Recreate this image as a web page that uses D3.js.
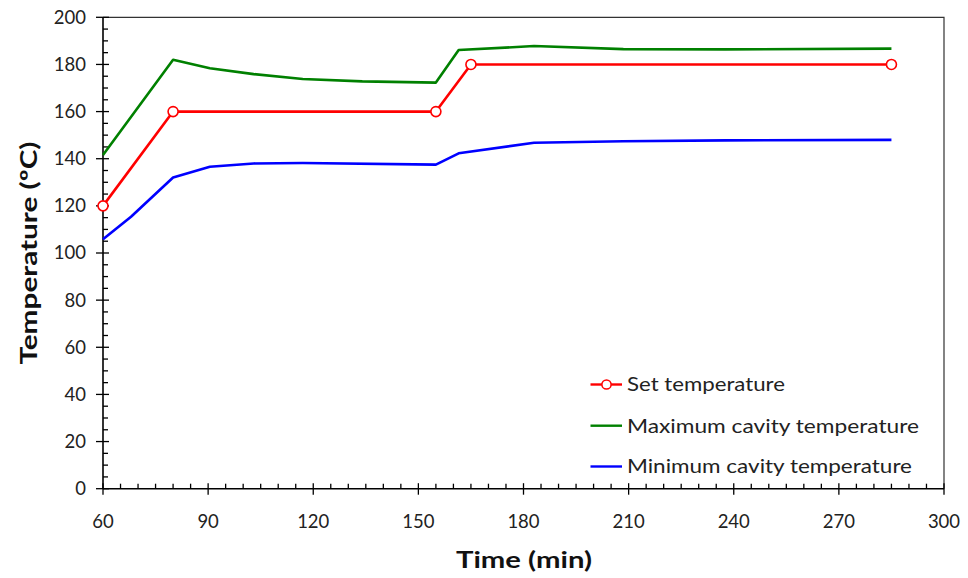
<!DOCTYPE html>
<html><head><meta charset="utf-8">
<script src="https://cdn.jsdelivr.net/npm/d3@7"></script>
<style>body{margin:0;background:#fff;} svg{display:block;}</style>
</head><body>
<svg id="c" width="968" height="578"></svg>
<script>
const setTime = [60, 80, 155, 165, 285];
const setTemp = [120, 160, 160, 180, 180];
const maxTime = [60, 80, 90.5, 103, 117, 134, 155, 161.5, 183, 208.5, 237.5, 285];
const maxTemp = [141.6, 182, 178.4, 175.9, 173.8, 172.8, 172.3, 186.1, 187.8, 186.5, 186.4, 186.7];
const minTime = [60, 68, 80, 90.5, 103, 117, 155, 161.5, 183, 208.5, 237.5, 285];
const minTemp = [105.8, 115.4, 132, 136.6, 138, 138.2, 137.5, 142.3, 146.8, 147.4, 147.8, 148];
const xTicks = [60, 90, 120, 150, 180, 210, 240, 270, 300];
const yTicks = [0, 20, 40, 60, 80, 100, 120, 140, 160, 180, 200];
const seriesNames = ["Set temperature", "Maximum cavity temperature", "Minimum cavity temperature"];
const seriesColors = ["#ff0000", "#008000", "#0000ff"];

const svg = d3.select("#c");
const L = 103, R = 944, T = 17.3, B = 488.7;
const x = d3.scaleLinear().domain([60, 300]).range([L, R]);
const y = d3.scaleLinear().domain([0, 200]).range([B, T]);
const font = "Lato, 'Noto Sans', sans-serif";

// frame (top & right)
svg.append("path").attr("d", `M${L},${T}H${R}V${B}`).attr("fill", "none")
  .attr("stroke", "#333").attr("stroke-width", 1.2);

// minor ticks
const g = svg.append("g").attr("stroke", "#000").attr("stroke-width", 1.3);
d3.range(60, 301, 5).forEach(v => {
  const major = v % 30 === 0;
  g.append("line").attr("x1", x(v)).attr("x2", x(v))
    .attr("y1", major ? B + 6 : B).attr("y2", major ? B - 5.5 : B - 5);
});
d3.range(0, 201, 5).forEach(v => {
  const major = v % 20 === 0;
  g.append("line").attr("y1", y(v)).attr("y2", y(v))
    .attr("x1", major ? L - 7 : L).attr("x2", major ? L + 6 : L + 5);
});
// axis lines
svg.append("line").attr("x1", L).attr("x2", R).attr("y1", B).attr("y2", B).attr("stroke", "#000").attr("stroke-width", 1.6);
svg.append("line").attr("x1", L).attr("x2", L).attr("y1", T).attr("y2", B).attr("stroke", "#000").attr("stroke-width", 1.6);

// tick labels
svg.append("g").selectAll("text").data(xTicks).join("text")
  .attr("x", d => x(d)).attr("y", 527.5).attr("text-anchor", "middle")
  .attr("font-family", font).attr("font-size", 18.5).attr("fill", "#222").text(d => d);
svg.append("g").selectAll("text").data(yTicks).join("text")
  .attr("x", 86).attr("y", d => y(d)).attr("dy", "0.35em").attr("text-anchor", "end")
  .attr("font-family", font).attr("font-size", 18.5).attr("fill", "#222").text(d => d);

// axis titles
svg.append("text").attr("x", 524).attr("y", 568).attr("text-anchor", "middle")
  .attr("font-family", font).attr("font-weight", "bold").attr("font-size", 23)
  .attr("textLength", 136).attr("lengthAdjust", "spacingAndGlyphs").attr("fill", "#111").text("Time (min)");
svg.append("text").attr("transform", "translate(37,253) rotate(-90)").attr("text-anchor", "middle")
  .attr("font-family", font).attr("font-weight", "bold").attr("font-size", 23)
  .attr("textLength", 223).attr("lengthAdjust", "spacingAndGlyphs").attr("fill", "#111").text("Temperature (ºC)");

// lines
const line = d3.line().x(d => x(d[0])).y(d => y(d[1]));
const series = [
  d3.zip(setTime, setTemp),
  d3.zip(maxTime, maxTemp),
  d3.zip(minTime, minTemp)
];
[2, 1, 0].forEach(i => {
  svg.append("path").datum(series[i]).attr("d", line).attr("fill", "none")
    .attr("stroke", seriesColors[i]).attr("stroke-width", 2.6).attr("stroke-linejoin", "round");
});
svg.append("g").selectAll("circle").data(series[0]).join("circle")
  .attr("cx", d => x(d[0])).attr("cy", d => y(d[1])).attr("r", 5)
  .attr("fill", "#fff").attr("stroke", seriesColors[0]).attr("stroke-width", 1.6);

// legend
const legY = [384.5, 425.7, 466.5];
const legLens = [158, 292, 285];
seriesNames.forEach((n, i) => {
  svg.append("line").attr("x1", 590.5).attr("x2", 622).attr("y1", legY[i]).attr("y2", legY[i])
    .attr("stroke", seriesColors[i]).attr("stroke-width", 2.4);
  if (i === 0) svg.append("circle").attr("cx", 606.5).attr("cy", legY[i]).attr("r", 4.6)
    .attr("fill", "#fff").attr("stroke", seriesColors[i]).attr("stroke-width", 1.5);
  svg.append("text").attr("x", 627).attr("y", legY[i]).attr("dy", "0.36em")
    .attr("font-family", font).attr("font-size", 19).attr("fill", "#222")
    .attr("textLength", legLens[i]).attr("lengthAdjust", "spacingAndGlyphs").text(n);
});
</script>
</body></html>
